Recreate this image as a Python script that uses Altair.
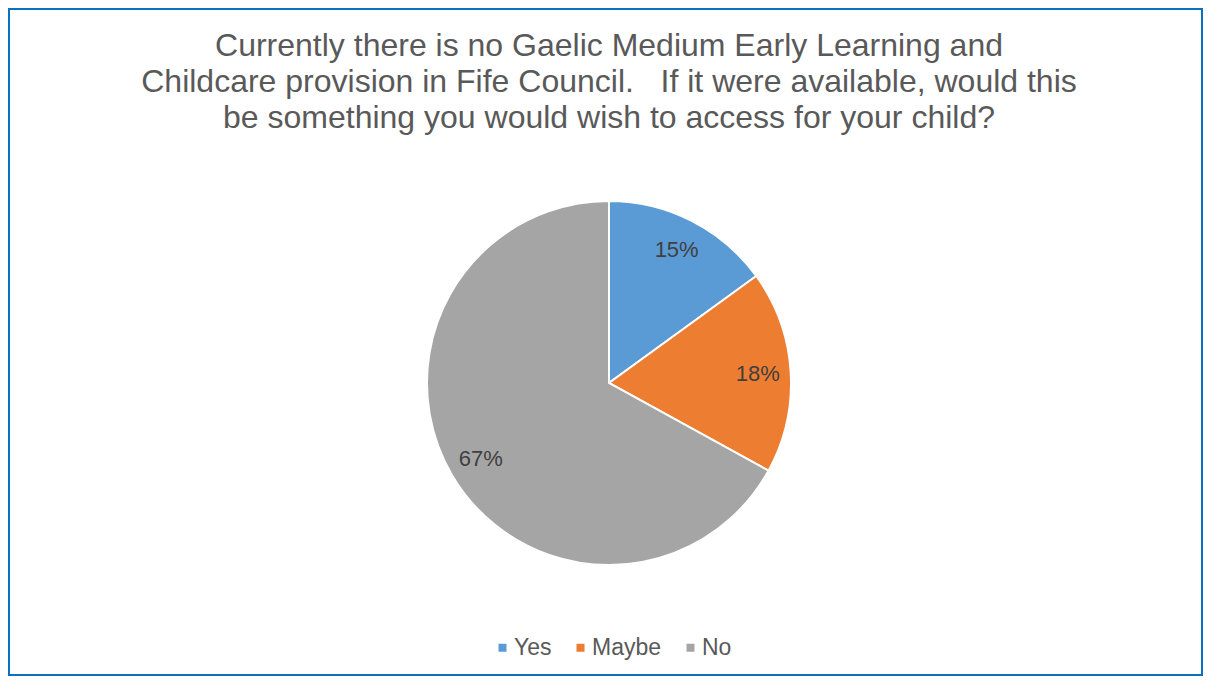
import altair as alt
import pandas as pd

categories = ["Yes", "Maybe", "No"]
values = [15, 18, 67]
labels = ["15%", "18%", "67%"]
colors = ["#5B9BD5", "#ED7D31", "#A5A5A5"]
title_lines = [
    "Currently there is no Gaelic Medium Early Learning and",
    "Childcare provision in Fife Council.\u00a0\u00a0 If it were available, would this",
    "be something you would wish to access for your child?",
]

df = pd.DataFrame({"category": categories, "value": values, "label": labels,
                   "order": list(range(len(categories)))})
tdf = pd.DataFrame({"line": title_lines, "row": list(range(len(title_lines)))})

W, H = 1195, 668
CX, CY = 601, 375
R = 182

color = alt.Color("category:N", scale=alt.Scale(domain=categories, range=colors),
                  sort=categories,
                  legend=alt.Legend(title=None, orient="none", direction="horizontal",
                                    legendX=483, legendY=628, symbolType="square",
                                    symbolSize=64, labelFontSize=23, labelColor="#595959",
                                    labelFont="Liberation Sans", labelOffset=0,
                                    columnPadding=17, symbolStrokeWidth=0))

base = alt.Chart(df).encode(
    theta=alt.Theta("value:Q", stack=True),
    order=alt.Order("order:Q"),
)

pie = base.mark_arc(outerRadius=R, stroke="white", strokeWidth=2).encode(
    color=color, x=alt.value(CX), y=alt.value(CY))

text = base.mark_text(radius=149, fontSize=22, font="Liberation Sans", color="#404040").encode(
    text="label:N", x=alt.value(CX), y=alt.value(CY))

title = alt.Chart(tdf).mark_text(fontSize=32, font="Liberation Sans", color="#595959",
                                 baseline="middle", align="center").encode(
    text="line:N",
    x=alt.value(601),
    y=alt.Y("row:Q", axis=None, scale=alt.Scale(domain=[0, 2], range=[38, 110])),
)

chart = alt.layer(pie, text, title).properties(
    width=W, height=H, padding=0, background="white"
).configure_view(stroke="#0A70C0", strokeWidth=4)

chart.save("out.html", embed_options={"renderer": "svg", "actions": False})
